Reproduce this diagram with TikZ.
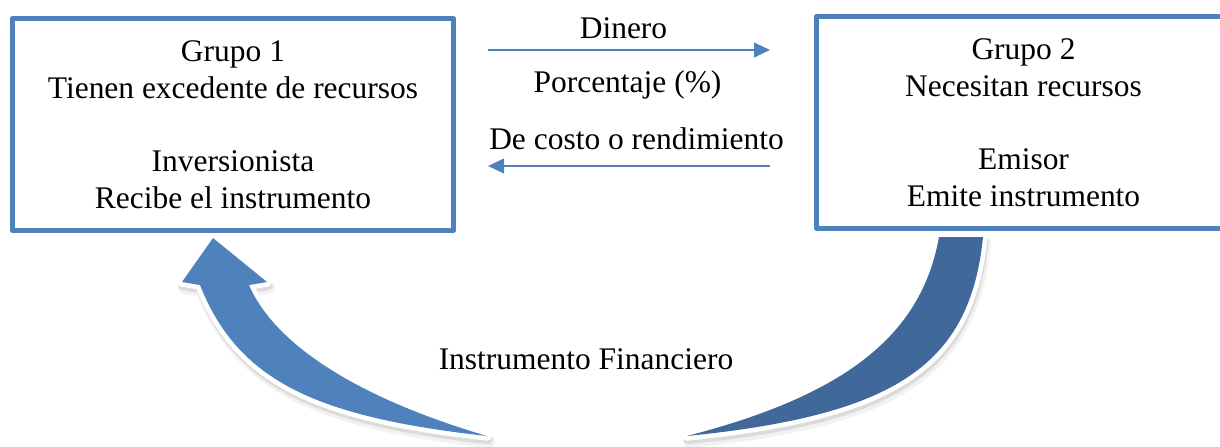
\documentclass[tikz,border=0pt]{standalone}
\usepackage{fontspec}
\setmainfont{Liberation Serif}
\usetikzlibrary{arrows.meta}
\usepackage{xcolor}
\definecolor{azul}{RGB}{79,129,189}
\definecolor{azuloscuro}{RGB}{64,104,154}
\newcommand{\letra}{\fontsize{23.6}{27.5}\selectfont}
\def\bandafrente{(213,238) -- (267,282) -- (249,285) .. controls (275,345) and (358,398) .. (487,436) .. controls (316,417) and (238,381) .. (200,285) -- (182,282) -- cycle}
\def\bandatras{(939,237) -- (983,237) .. controls (970,365) and (896,415) .. (687,436) .. controls (846,395) and (921.5,335) .. (939,237) -- cycle}
\begin{document}
\begin{tikzpicture}[line cap=round,line join=round,>={Triangle[length=12pt,width=11pt]},x=0.75pt,y=-0.75pt,
    grupo/.style={draw=azul,line width=3.75pt,align=center,font=\letra,inner sep=0pt},
    texto/.style={font=\letra,inner sep=0pt},
    flecha/.style={->,color=azul,line width=1.5pt,line cap=butt}]
    \useasboundingbox (0,0) rectangle (1220,446);
    \clip (0,0) rectangle (1220,446);
    \node[grupo,minimum width=331pt,minimum height=159pt] (g1) at (233,124.5) {Grupo 1\\Tienen excedente de recursos\\[27.5pt]Inversionista\\Recibe el instrumento};
    \node[grupo,minimum width=310.5pt,minimum height=159pt] (g2) at (1023.5,122.5) {Grupo 2\\Necesitan recursos\\[27.5pt]Emisor\\Emite instrumento};
    \coordinate (d1) at (488,50);
    \coordinate (d2) at (770,50);
    \coordinate (r1) at (770,166);
    \coordinate (r2) at (488,166);
    \draw[flecha] (d1) -- (d2);
    \draw[flecha] (r1) -- (r2);
    \node[texto] (dinero) at (623.5,28) {Dinero};
    \node[texto] (porcentaje) at (627.5,85) {Porcentaje (\%)};
    \node[texto] (costo) at (636.5,139) {De costo o rendimiento};
    % flecha curva
    \filldraw[black!5,line width=9pt,shift={(2,6)}] \bandatras;
    \filldraw[black!5,line width=9pt,shift={(2,6)}] \bandafrente;
    \filldraw[black!14,line width=7pt,shift={(1,3.5)}] \bandatras;
    \filldraw[black!14,line width=7pt,shift={(1,3.5)}] \bandafrente;
    \filldraw[white,line width=7pt] \bandatras;
    \filldraw[white,line width=7pt] \bandafrente;
    \fill[azuloscuro] \bandatras;
    \fill[azul] \bandafrente;
    \node[texto] (instrumento) at (586,359) {Instrumento Financiero};
\end{tikzpicture}
\end{document}
